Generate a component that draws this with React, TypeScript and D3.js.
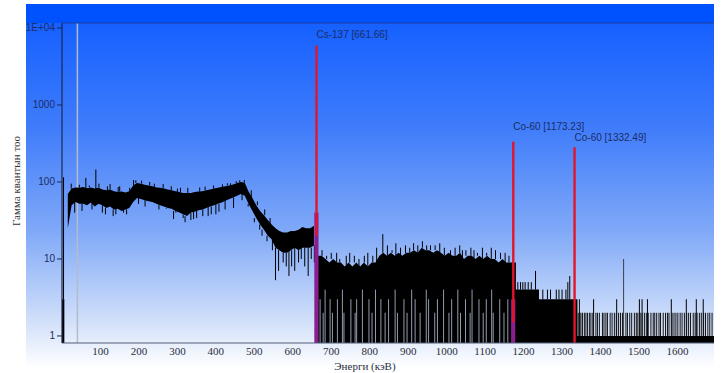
import * as d3 from 'd3';

// 10 keV bins: upper and lower edge of the noisy band (counts)
const binWidth = 10;
const binHi = [
  3, 70, 82, 85, 84, 86, 83, 85, 82, 84,
  80, 78, 80, 76, 74, 75, 73, 76, 90, 97,
  95, 92, 90, 88, 85, 84, 82, 80, 78, 76,
  74, 72, 72, 72, 74, 75, 76, 78, 80, 82,
  84, 86, 88, 90, 93, 97, 100, 98, 75, 62,
  50, 42, 37, 32, 28, 25, 23, 22, 22, 23,
  23, 24, 26, 25, 25, 27, 11, 11, 10, 9,
  10, 9, 9, 8, 9, 8, 9, 8, 9, 8,
  9, 9, 11, 12, 11, 12, 11, 12, 11, 12,
  12, 13, 12, 14, 13, 13, 12, 13, 12, 11,
  12, 11, 11, 12, 10, 11, 11, 10, 11, 10,
  11, 10, 10, 9, 10, 9, 9, 9, 4, 4,
  4, 4, 4, 4, 3, 3, 3, 3, 3, 3,
  3, 3, 3, 3, 1, 1, 1, 1, 1, 1,
  1, 1, 1, 1, 1, 1, 1, 1, 1, 1,
  1, 1, 1, 1, 1, 1, 1, 1, 1, 1,
  1, 1, 1, 1, 1, 1, 1, 1, 1, 1,
];
const binLo = [
  0, 25, 50, 55, 52, 52, 50, 54, 48, 52,
  50, 46, 48, 44, 45, 42, 44, 46, 55, 62,
  60, 58, 56, 55, 52, 50, 48, 46, 45, 42,
  40, 38, 36, 40, 41, 43, 44, 46, 48, 50,
  52, 54, 57, 60, 63, 66, 70, 66, 52, 42,
  34, 28, 24, 20, 18, 14, 13, 12, 12, 13,
  14, 13, 14, 14, 14, 15, 0, 0, 0, 0,
  0, 0, 0, 0, 0, 0, 0, 0, 0, 0,
  0, 0, 0, 0, 0, 0, 0, 0, 0, 0,
  0, 0, 0, 0, 0, 0, 0, 0, 0, 0,
  0, 0, 0, 0, 0, 0, 0, 0, 0, 0,
  0, 0, 0, 0, 0, 0, 0, 0, 0, 0,
  0, 0, 0, 0, 0, 0, 0, 0, 0, 0,
  0, 0, 0, 0, 0, 0, 0, 0, 0, 0,
  0, 0, 0, 0, 0, 0, 0, 0, 0, 0,
  0, 0, 0, 0, 0, 0, 0, 0, 0, 0,
  0, 0, 0, 0, 0, 0, 0, 0, 0, 0,
];

// single channels sticking out of the band [keV, counts]
const spikeEnergy = [
  4, 62, 88, 125, 150, 192, 240, 300, 430, 462,
  105, 140, 160, 290, 320, 335, 350, 380, 400, 520,
  555, 563, 575, 590, 605, 615, 640, 648,
  24, 33, 45, 52, 71, 78, 96, 113, 118, 133, 146, 168, 176,
  186, 199, 207, 216, 228, 252, 263, 271, 284, 296, 308, 315, 327,
  342, 358, 366, 372, 388, 394, 408, 417, 424, 438, 446, 453, 468, 474,
  484, 492, 500, 508, 514, 527, 533, 541, 547, 583, 597, 622, 631, 656,
  700, 760, 834, 880, 925, 948, 970, 1010, 1050, 1080, 1116, 1140,
  676, 688, 714, 722, 739, 748, 772, 786, 795, 808, 818, 846, 858, 868,
  893, 904, 914, 937, 958, 982, 994, 1022, 1034, 1041, 1063, 1071, 1093, 1104, 1127, 1152, 1162,
  1185, 1192, 1198, 1204, 1212, 1220, 1231, 1250, 1262, 1270, 1285, 1292, 1300, 1310, 1315, 1320,
  1345, 1382, 1442, 1460, 1501, 1508, 1522, 1584, 1623, 1649, 1667,
];
const spikeCount = [
  115, 113, 145, 94, 88, 105, 95, 82, 96, 105,
  40, 38, 40, 33, 30, 32, 34, 36, 38, 20,
  5.3, 7, 9, 6, 7, 9, 6, 10,
  95, 40, 92, 42, 90, 44, 95, 38, 88, 36, 86, 38, 84,
  106, 52, 104, 48, 100, 44, 94, 45, 88, 40, 84, 34, 84,
  33, 85, 36, 87, 38, 90, 41, 93, 44, 96, 46, 102, 58, 106,
  48, 78, 30, 56, 24, 44, 17, 34, 13, 8, 8, 10, 8, 9,
  12, 11, 21, 14, 15, 15, 15, 13, 13, 12, 14, 12,
  13, 11, 12, 10, 11, 12, 10, 11, 12, 11, 14, 15, 13, 16,
  15, 14, 16, 17, 15, 16, 14, 14, 15, 13, 14, 13, 14, 12, 13, 12, 11,
  5, 5, 5, 5, 5, 5, 7, 4, 4, 4, 4, 4, 4, 4, 5, 6,
  3, 3, 3, 10, 3, 3, 3, 3, 3, 3, 3,
];

// channels of the Compton region where the trace stays off the floor [keV, up to counts]
const gapEnergy = [
  671, 679, 684, 697, 703, 716, 729, 733, 751, 762, 766, 781, 798, 806, 815, 829,
  840, 849, 866, 872, 889, 897, 909, 918, 931, 947, 953, 969, 976, 992, 1006,
  1013, 1029, 1036, 1049, 1061, 1066, 1084, 1095, 1103, 1117, 1121, 1138, 1149, 1159,
];
const gapTop = [
  3, 2, 4, 3, 2, 3, 4, 2, 3, 2, 3, 4, 3, 2, 4, 3,
  2, 3, 4, 2, 3, 2, 4, 3, 2, 4, 3, 2, 3, 4, 2,
  3, 4, 2, 3, 2, 4, 3, 2, 3, 4, 2, 3, 2, 3,
];

// channels with 2 counts above 1340 keV
const twoCountEnergy = [
  1342, 1346, 1349, 1353, 1358, 1362, 1366, 1371, 1375, 1380, 1388, 1392, 1397,
  1405, 1409, 1414, 1418, 1425, 1430, 1436, 1441, 1447, 1452, 1457, 1466, 1470,
  1476, 1481, 1488, 1493, 1497, 1503, 1508, 1514, 1519, 1524, 1531, 1537, 1541,
  1546, 1552, 1556, 1563, 1569, 1574, 1578, 1586, 1591, 1596, 1601, 1607, 1612,
  1618, 1624, 1629, 1634, 1641, 1646, 1651, 1657, 1662, 1668, 1673, 1679, 1684, 1690,
];

const peakEnergy = [661.66, 1173.23, 1332.49];
const peakCount = [5890, 334, 282];
const peakRoiTop = [40, 3, 0];
const peakLabels = ['Cs-137 [661.66]', 'Co-60 [1173.23]', 'Co-60 [1332.49]'];
const peakLabelDy = [-8, -12, -6];

const xTicks = [100, 200, 300, 400, 500, 600, 700, 800, 900, 1000, 1100, 1200, 1300, 1400, 1500, 1600];
const yTicks = [1, 10, 100, 1000, 10000];
const yTickLabels = ['1', '10', '100', '1000', '1E+04'];

const markerEnergy = 40;

export default function App() {
  const W = 721, H = 373;
  const left = 62, right = 714, top = 23, bottom = 343;
  const x = d3.scaleLinear().domain([0, 1695]).range([left, right]);
  const yMin = 0.81;
  const y = d3.scaleLog().domain([yMin, 11600]).range([bottom, top]);
  const yc = (v: number) => y(Math.max(v, yMin));

  const bins = binHi.map((h, i) => ({ e0: i * binWidth, e1: (i + 1) * binWidth, hi: h, lo: binLo[i] }));

  // smooth band for the continuum and Compton region, steps after the Co-60 line
  const band = d3.area<any>()
    .x(b => x((b.e0 + b.e1) / 2))
    .y0(b => yc(b.lo))
    .y1(b => yc(b.hi));
  const step = d3.area<any>()
    .x(b => x(b.e0))
    .y0(b => yc(b.lo))
    .y1(b => yc(b.hi))
    .curve(d3.curveStepAfter);
  const continuum = bins.slice(1, 66);
  const compton = bins.slice(66, 118);
  const tail = [...bins.slice(117), { e0: 1700, e1: 1710, hi: 1, lo: 0 }];

  const spikes = spikeEnergy.map((e, i) => {
    const b = bins[Math.min(bins.length - 1, Math.floor(e / binWidth))];
    const from = spikeCount[i] > b.hi ? b.hi : b.lo;
    return { e, c: spikeCount[i], from };
  });

  const serif = '"Liberation Serif", "Times New Roman", serif';
  const sans = '"Liberation Sans", Arial, sans-serif';

  return (
    <svg width={W} height={H} style={{ position: 'absolute', left: 0, top: 0, background: '#fff' }}>
      <defs>
        <linearGradient id="bg" x1="0" y1="0" x2="0" y2="1">
          <stop offset="0" stopColor="#1560ff" />
          <stop offset="0.3" stopColor="#3f7cfb" />
          <stop offset="0.6" stopColor="#7fa8f7" />
          <stop offset="0.88" stopColor="#d6e3fa" />
          <stop offset="1" stopColor="#ffffff" />
        </linearGradient>
        <clipPath id="plot">
          <rect x={left} y={top} width={right - left} height={bottom - top} />
        </clipPath>
      </defs>

      <rect x={26} y={4} width={688} height={19} fill="#0052ff" />
      <rect x={26} y={23} width={688} height={345} fill="url(#bg)" />

      <g clipPath="url(#plot)">
        <line x1={x(markerEnergy)} x2={x(markerEnergy)} y1={top} y2={bottom} stroke="#b4bccb" strokeWidth={1.5} />

        <rect x={x(bins[0].e0)} y={yc(bins[0].hi)} width={x(bins[0].e1) - x(bins[0].e0) - 1.5}
          height={bottom - yc(bins[0].hi)} fill="#000" />
        <path d={band(continuum) ?? ''} fill="#000" />
        <path d={band(compton) ?? ''} fill="#000" />
        <path d={step(tail) ?? ''} fill="#000" />

        {gapEnergy.map((e, i) => (
          <line key={i} x1={x(e)} x2={x(e)} y1={bottom} y2={yc(gapTop[i])} stroke="#c3d0ea" strokeWidth={1} opacity={0.75} />
        ))}

        {spikes.map((s, i) => (
          <line key={i} x1={x(s.e)} x2={x(s.e)} y1={yc(s.from)} y2={yc(s.c)}
            stroke={s.e === 1460 ? '#3a3f4c' : '#000'} strokeWidth={1} />
        ))}

        {twoCountEnergy.map((e, i) => (
          <line key={i} x1={x(e)} x2={x(e)} y1={yc(1)} y2={yc(2)} stroke="#111" strokeWidth={1} />
        ))}

        {peakEnergy.map((e, i) => (
          <g key={i}>
            {peakRoiTop[i] > 0 && (
              <rect x={x(e) - 2.2} y={yc(peakRoiTop[i])} width={4.2} height={bottom - yc(peakRoiTop[i])} fill="#8a1f8f" />
            )}
            <line x1={x(e)} x2={x(e)} y1={yc(peakCount[i])}
              y2={peakRoiTop[i] > 0 ? yc(peakRoiTop[i] / 2) : bottom}
              stroke="#e3152b" strokeWidth={2.4} />
          </g>
        ))}
      </g>

      {peakEnergy.map((e, i) => (
        <text key={i} x={x(e)} y={yc(peakCount[i]) + peakLabelDy[i]} fontFamily={sans} fontSize={10} fill="#1a2d66">
          {peakLabels[i]}
        </text>
      ))}

      <line x1={left} x2={right} y1={top} y2={top} stroke="#1d3f9a" strokeWidth={1.2} />
      <line x1={left} x2={right} y1={bottom} y2={bottom} stroke="#55607a" strokeWidth={1} />
      <line x1={left} x2={left} y1={top} y2={bottom} stroke="#1a2850" strokeWidth={1.2} />

      {yTicks.map((t, i) => (
        <g key={t}>
          <line x1={left - 5} x2={left} y1={y(t)} y2={y(t)} stroke="#1a2850" />
          <text x={left - 7} y={y(t)} dy="0.35em" textAnchor="end" fontFamily={sans} fontSize={10} fill="#1a2d66">
            {yTickLabels[i]}
          </text>
        </g>
      ))}

      {xTicks.map(t => (
        <text key={t} x={x(t)} y={355} textAnchor="middle" fontFamily={serif} fontSize={11} fill="#2a2f40">
          {t}
        </text>
      ))}

      <text x={365} y={370} textAnchor="middle" fontFamily={serif} fontSize={11} fill="#2a2f40">Энерги (кэВ)</text>
      <text transform="translate(20,181) rotate(-90)" textAnchor="middle" fontFamily={serif} fontSize={11} fill="#333">
        Гамма квантын тоо
      </text>
    </svg>
  );
}
